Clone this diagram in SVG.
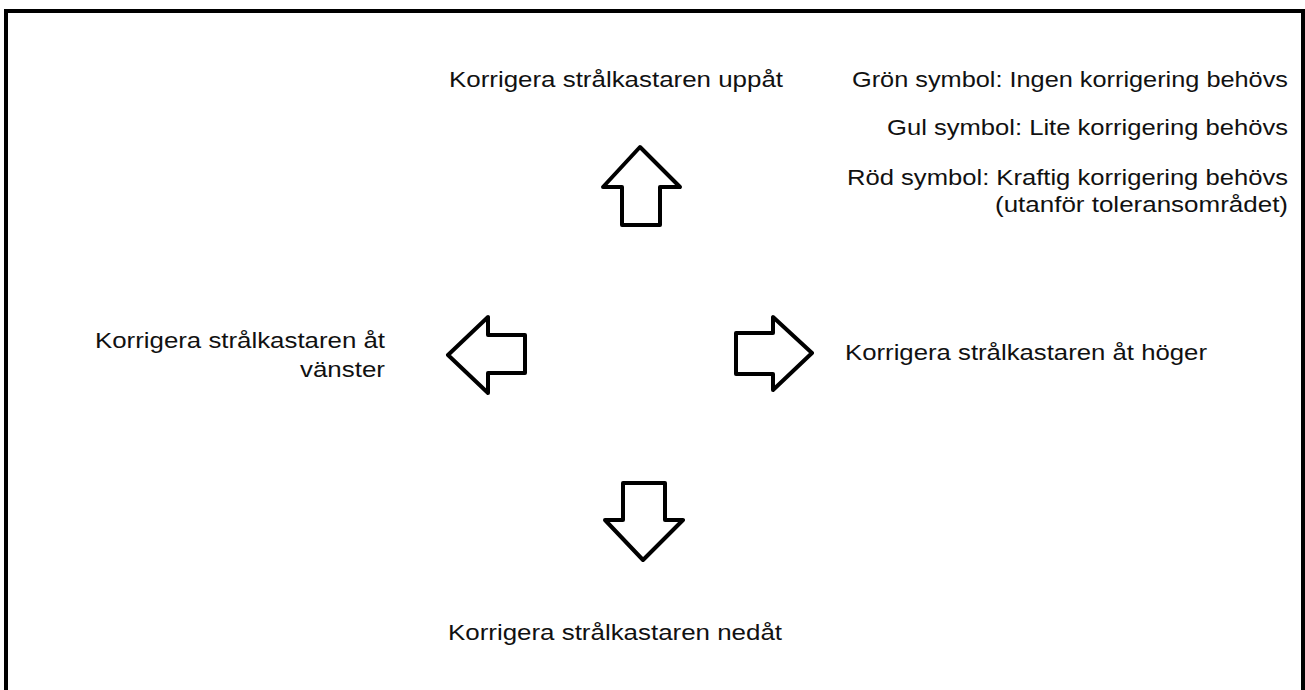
<svg xmlns="http://www.w3.org/2000/svg" width="1305" height="690" viewBox="0 0 1305 690">
<style>
.t{font-family:"Liberation Sans",Arial,sans-serif;font-size:22px;fill:#111;}
.a{fill:#fff;stroke:#000;stroke-width:4;stroke-linejoin:round;}
</style>
<rect x="0" y="0" width="1305" height="690" fill="#fff"/>
<rect x="6" y="11" width="1297" height="690" fill="none" stroke="#000" stroke-width="4"/>
<g id="up">
<path class="a" d="M640,147 L680,187 L660,187 L660,225 L622,225 L622,187 L603,187 Z"/>
<text class="t" x="449" y="87" textLength="334" lengthAdjust="spacingAndGlyphs">Korrigera strålkastaren uppåt</text>
</g>
<g id="left">
<path class="a" d="M448,355 L488,317 L488,335 L525,335 L525,373 L488,373 L488,393 Z"/>
<text class="t" x="95" y="348" textLength="290" lengthAdjust="spacingAndGlyphs">Korrigera strålkastaren åt</text>
<text class="t" x="300" y="377" textLength="85" lengthAdjust="spacingAndGlyphs">vänster</text>
</g>
<g id="right">
<path class="a" d="M812,353 L773,317 L773,333 L736,333 L736,374 L773,374 L773,390 Z"/>
<text class="t" x="845" y="360" textLength="362" lengthAdjust="spacingAndGlyphs">Korrigera strålkastaren åt höger</text>
</g>
<g id="down">
<path class="a" d="M643,560 L683,520 L665,520 L665,483 L623,483 L623,520 L605,520 Z"/>
<text class="t" x="448" y="640" textLength="334" lengthAdjust="spacingAndGlyphs">Korrigera strålkastaren nedåt</text>
</g>
<g id="legend">
<text class="t" x="852" y="87" textLength="436" lengthAdjust="spacingAndGlyphs">Grön symbol: Ingen korrigering behövs</text>
<text class="t" x="887" y="135" textLength="401" lengthAdjust="spacingAndGlyphs">Gul symbol: Lite korrigering behövs</text>
<text class="t" x="847" y="185" textLength="441" lengthAdjust="spacingAndGlyphs">Röd symbol: Kraftig korrigering behövs</text>
<text class="t" x="995" y="212" textLength="293" lengthAdjust="spacingAndGlyphs">(utanför toleransområdet)</text>
</g>
<g id="connectors"/>
</svg>
